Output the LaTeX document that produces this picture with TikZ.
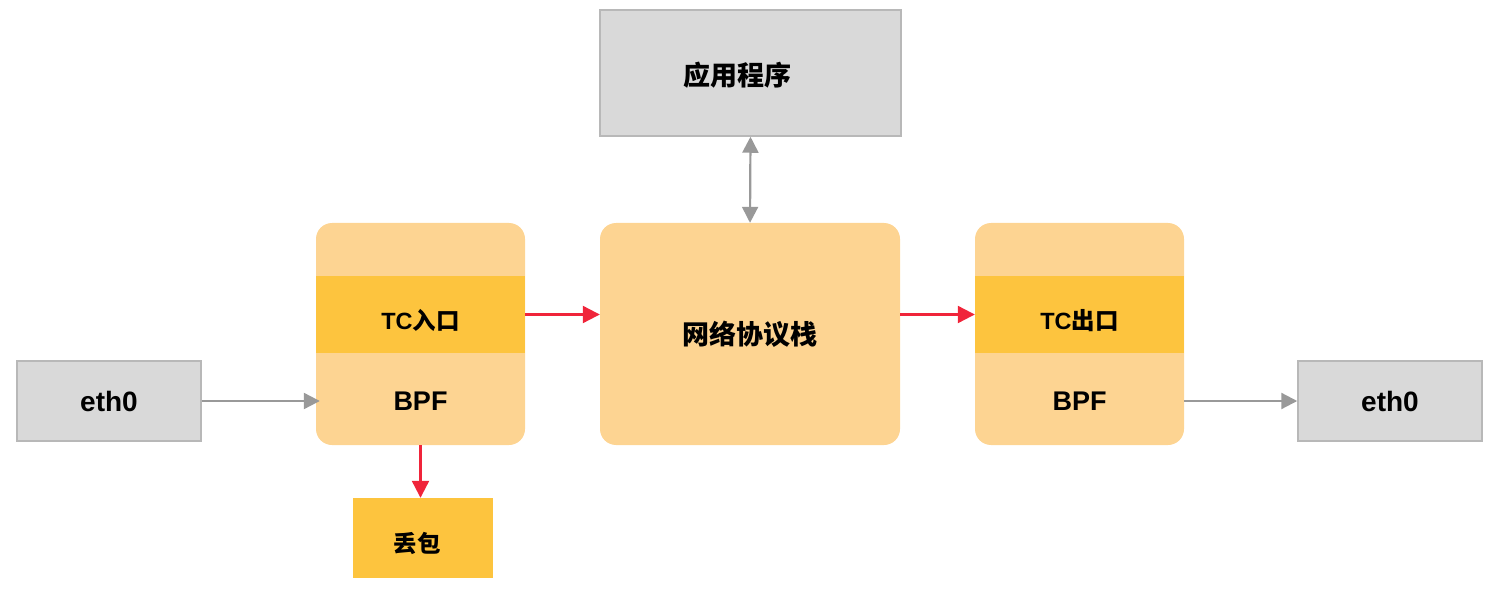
\documentclass[tikz,border=0pt]{standalone}
\usepackage{fontspec}
\setmainfont{Liberation Sans}
\newfontfamily\cjk{Noto Sans CJK SC}
\usetikzlibrary{arrows.meta}
\definecolor{boxgray}{HTML}{D9D9D9}
\definecolor{edgegray}{HTML}{B8B8B8}
\definecolor{lightorange}{HTML}{FDD492}
\definecolor{deeporange}{HTML}{FDC43E}
\definecolor{arrowgray}{HTML}{999999}
\definecolor{arrowred}{HTML}{F0243A}
\tikzset{
	graybox/.style={draw=edgegray,line width=1.5pt,fill=boxgray,inner sep=0pt,font=\bfseries\fontsize{28}{32}\selectfont},
	softbox/.style={fill=lightorange,rounded corners=16pt,inner sep=0pt,minimum width=209pt,minimum height=222pt},
	band/.style={fill=deeporange,inner sep=0pt,minimum width=209pt,minimum height=77pt,text height=29pt,text depth=0pt,font=\bfseries\fontsize{23.5}{27}\selectfont},
	label/.style={font=\bfseries\fontsize{27}{31}\selectfont},
	grayarrow/.style={draw=arrowgray,line width=2.2pt,-{Triangle[length=16pt,width=16pt]}},
	redarrow/.style={draw=arrowred,line width=2.2pt,-{Triangle[length=17pt,width=17pt]}}
}
\begin{document}
\begin{tikzpicture}[x=1pt,y=-1pt]
	\useasboundingbox (0,0) rectangle (1499,604);
	% outer interfaces and application
	\node[graybox,minimum width=184pt,minimum height=80pt] (ethin) at (109,401) {eth0};
	\node[graybox,minimum width=184pt,minimum height=80pt] (ethout) at (1390,401) {eth0};
	\node[graybox,minimum width=301pt,minimum height=126pt] (app) at (750.5,73) {};
	\node[label] (applabel) at (737,75) {\cjk 应用程序};
	% network stack
	\node[softbox,minimum width=300pt,label] (stack) at (750,334) {\cjk 网络协议栈};
	% TC ingress
	\node[softbox] (tcin) at (420.5,334) {};
	\node[band] (bandin) at (420.5,314.5) {TC{\cjk 入口}};
	\node[label] (bpfin) at (420.5,401) {BPF};
	\node[fill=deeporange,minimum width=140pt,minimum height=80pt,inner sep=0pt] (drop) at (423,538) {};
	\node[font=\bfseries\fontsize{23.5}{27}\selectfont] (droplabel) at (417,543) {\cjk 丢包};
	% TC egress
	\node[softbox] (tcout) at (1079.5,334) {};
	\node[band] (bandout) at (1079.5,314.5) {TC{\cjk 出口}};
	\node[label] (bpfout) at (1079.5,401) {BPF};
	% connectors
	\draw[grayarrow] (ethin.east) -- ([xshift=4pt]tcin.west |- bpfin);
	\draw[redarrow] (bandin.east) -- (stack.west |- bandin.east);
	\draw[redarrow] (stack.east |- bandout.west) -- (bandout.west);
	\draw[grayarrow] (tcout.east |- ethout.west) -- (ethout.west);
	\draw[redarrow] (tcin.south) -- (drop.north -| tcin.south);
	\draw[grayarrow,{Triangle[length=16pt,width=16pt]}-{Triangle[length=16pt,width=16pt]}] (app.south) -- (stack.north);
\end{tikzpicture}
\end{document}
